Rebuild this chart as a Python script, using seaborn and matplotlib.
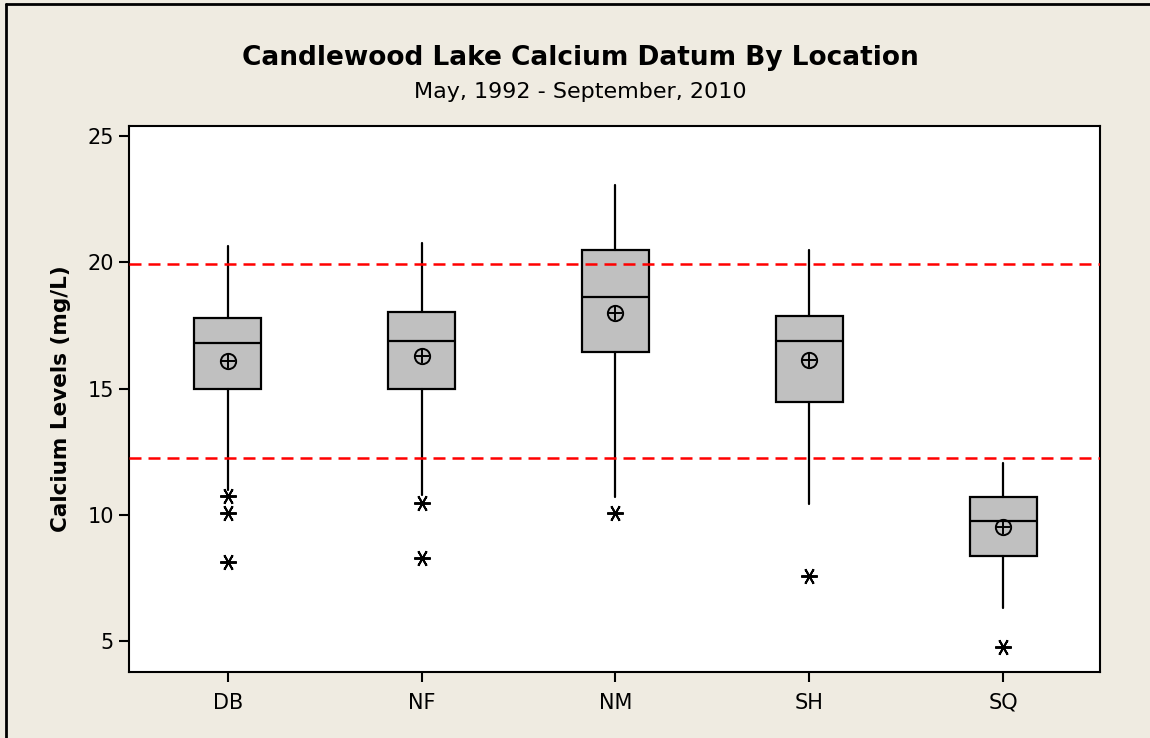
import matplotlib
matplotlib.use("Agg")
import matplotlib.pyplot as plt
import seaborn as sns
from matplotlib.lines import Line2D

# data
locations = ["DB", "NF", "NM", "SH", "SQ"]
q1 = [14.97, 15.00, 16.43, 14.45, 8.37]
median = [16.82, 16.89, 18.64, 16.89, 9.75]
q3 = [17.80, 18.04, 20.47, 17.88, 10.72]
whisker_lo = [10.98, 10.78, 10.72, 10.41, 6.29]
whisker_hi = [20.63, 20.76, 23.06, 20.47, 12.04]
means = [16.10, 16.29, 17.98, 16.13, 9.50]
outliers = [[10.74, 10.08, 8.14], [10.45, 8.27], [10.08], [7.57], [4.77]]
ref_lines = [19.93, 12.24]

bg = "#EFEBE1"
sns.set_style("ticks")
plt.rcParams["font.family"] = ["DejaVu Sans"]
plt.rcParams["text.color"] = "black"
plt.rcParams["axes.labelcolor"] = "black"
plt.rcParams["xtick.color"] = "black"
plt.rcParams["ytick.color"] = "black"

fig = plt.figure(figsize=(11.5, 7.38), dpi=100, facecolor=bg)
ax = fig.add_axes([0.1122, 0.0894, 0.8443, 0.7399])
ax.set_facecolor("white")

stats = []
for i, loc in enumerate(locations):
    stats.append({
        "label": loc, "q1": q1[i], "med": median[i], "q3": q3[i],
        "whislo": whisker_lo[i], "whishi": whisker_hi[i],
        "mean": means[i], "fliers": outliers[i],
    })

ax.bxp(stats, positions=range(len(locations)), widths=0.345,
       patch_artist=True, showcaps=False, showmeans=True,
       boxprops=dict(facecolor="#C0C0C0", edgecolor="black", linewidth=1.6),
       medianprops=dict(color="black", linewidth=1.6),
       whiskerprops=dict(color="black", linewidth=1.6),
       meanprops=dict(marker="o", markerfacecolor="none", markeredgecolor="black",
                      markersize=11, markeredgewidth=1.4),
       flierprops=dict(marker=(6, 2, 90), markeredgecolor="black", markersize=12,
                       markeredgewidth=1.4, linestyle="none"))

# plus inside the mean circle
sns.scatterplot(x=list(range(len(locations))), y=means, marker="+", s=110,
                color="black", linewidth=1.4, ax=ax, zorder=5, legend=False)

for yv in ref_lines:
    ax.axhline(yv, color="#FF0000", linewidth=1.8, linestyle=(0, (4.8, 2.8)), zorder=4)

ax.set_xlim(-0.51, 4.5)
ax.set_ylim(3.77, 25.4)
ax.set_yticks([5, 10, 15, 20, 25])
ax.set_xticks(range(len(locations)))
ax.set_xticklabels(locations)
ax.tick_params(axis="both", labelsize=15, length=7, width=1.5, color="black",
               labelcolor="black", pad=4)
ax.tick_params(axis="x", pad=8)
for sp in ax.spines.values():
    sp.set_visible(True)
    sp.set_color("black")
    sp.set_linewidth(1.5)

ax.set_ylabel("Calcium Levels (mg/L)", fontsize=15.5, fontweight="bold",
              labelpad=12, color="black")
ax.set_xlabel("")

fig.text(0.505, 0.921, "Candlewood Lake Calcium Datum By Location",
         ha="center", va="center", fontsize=19, fontweight="bold", color="black")
fig.text(0.505, 0.875, "May, 1992 - September, 2010",
         ha="center", va="center", fontsize=16, color="black")

# frame lines at the top and left of the figure
fig.add_artist(Line2D([0.0055, 0.0055], [0, 0.995], transform=fig.transFigure,
                      color="black", linewidth=2))
fig.add_artist(Line2D([0.0055, 1.0], [0.995, 0.995], transform=fig.transFigure,
                      color="black", linewidth=2))

fig.savefig("out.png", dpi=100, facecolor=bg)
